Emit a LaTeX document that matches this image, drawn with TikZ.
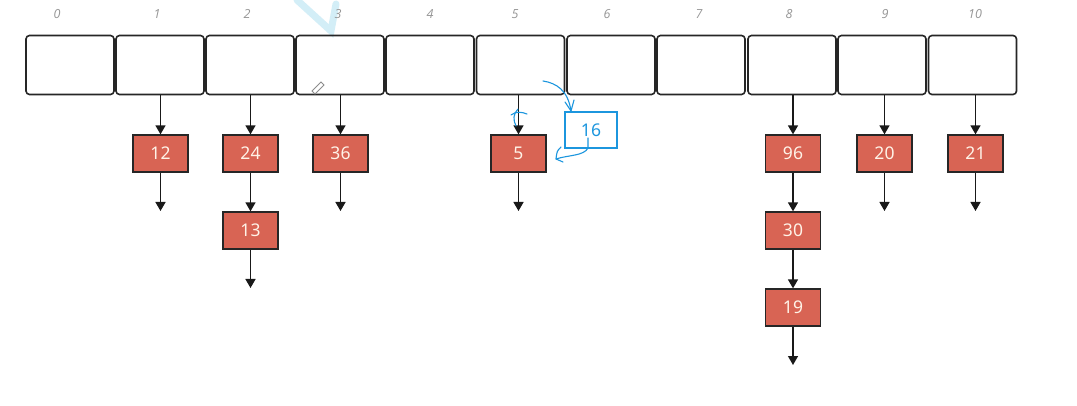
\documentclass[tikz,border=0pt]{standalone}
\usepackage{fontspec}
\setmainfont{Noto Sans}
\newfontfamily\idxfont{Open Sans}
\usetikzlibrary{arrows.meta}
\definecolor{nodered}{RGB}{216,100,84}
\definecolor{nodetext}{RGB}{255,243,232}
\definecolor{pen}{RGB}{28,150,222}
\definecolor{idxgray}{RGB}{150,150,150}
\definecolor{cursorblue}{RGB}{200,234,245}
\tikzset{
  cell/.style={draw=black!85, line width=1.6pt, rounded corners=3.5pt, minimum width=88pt, minimum height=59pt, inner sep=0pt},
  idx/.style={font=\idxfont\itshape\fontsize{12.5}{14}\selectfont, text=idxgray, inner sep=0pt},
  item/.style={draw=black!85, fill=nodered, line width=1.3pt, minimum width=55pt, minimum height=37pt, inner sep=0pt, text=nodetext, font=\fontsize{17.5}{20}\selectfont},
  link/.style={-{Triangle[length=9pt,width=10pt]}, line width=1.4pt, black!90},
  ink/.style={pen, line width=1.1pt, line cap=round, line join=round},
}
\begin{document}
\begin{tikzpicture}[x=1pt,y=-1pt]
\useasboundingbox[fill=white] (0,0) rectangle (1077,406);
% light cursor stroke artifact
\draw[cursorblue, line width=7pt, line cap=round, opacity=0.8] (297,0) -- (331,31) -- (336,4);
% cells
\foreach \i/\x in {0/70,1/160,2/250,3/340,4/430,5/520.5,6/611,7/701,8/792,9/882,10/972.5}{
  \node[cell] (c\i) at (\x,65) {};
}
\foreach \i/\x in {0/57,1/157,2/247,3/338,4/430,5/515,6/607,7/699,8/789,9/885,10/975}{
  \node[idx] (l\i) at (\x,14) {\i};
}
% pencil icon
\draw[black!45, line width=0.8pt] (312,91) -- (321,82) -- (324,85) -- (315,94) -- cycle;
% items
\node[item] (n12) at (160.5,153.5) {12};
\node[item] (n24) at (250.5,153.5) {24};
\node[item] (n13) at (250.5,230.5) {13};
\node[item] (n36) at (340.5,153.5) {36};
\node[item] (n5)  at (518.5,153.5) {5};
\node[item] (n96) at (793,153.5) {96};
\node[item] (n30) at (793,230.5) {30};
\node[item] (n19) at (793,307.5) {19};
\node[item] (n20) at (884.5,153.5) {20};
\node[item] (n21) at (975.5,153.5) {21};
% null ends
\coordinate (e12) at (160.5,211);
\coordinate (e13) at (250.5,288);
\coordinate (e36) at (340.5,211);
\coordinate (e5)  at (518.5,211);
\coordinate (e19) at (793,365);
\coordinate (e20) at (884.5,211);
\coordinate (e21) at (975.5,211);
% links
\draw[link] (c1.south -| n12) -- (n12.north);
\draw[link] (c2.south -| n24) -- (n24.north);
\draw[link] (c3.south -| n36) -- (n36.north);
\draw[link] (c5.south -| n5) -- (n5.north);
\draw[link] (c8.south -| n96) -- (n96.north);
\draw[link] (c9.south -| n20) -- (n20.north);
\draw[link] (c10.south -| n21) -- (n21.north);
\draw[link] (n24.south) -- (n13.north);
\draw[link] (n96.south) -- (n30.north);
\draw[link] (n30.south) -- (n19.north);
\draw[link] (n12.south) -- (e12);
\draw[link] (n13.south) -- (e13);
\draw[link] (n36.south) -- (e36);
\draw[link] (n5.south) -- (e5);
\draw[link] (n19.south) -- (e19);
\draw[link] (n20.south) -- (e20);
\draw[link] (n21.south) -- (e21);
% hand-drawn insertion of 16
\node[draw=pen, line width=1.5pt, minimum width=52pt, minimum height=36pt, inner sep=0pt, text=pen, font=\fontsize{17.5}{20}\selectfont] (n16) at (591,130) {16};
\draw[ink] (543,81) .. controls (556,83) and (568,90) .. (571,111);
\draw[ink] (565,102) -- (571,111) -- (574,100);
\draw[ink] (588,138) -- (588,148) .. controls (584,156) and (568,155) .. (556,159);
\draw[ink] (561,147) .. controls (557,151) .. (556,159) .. controls (559,161) .. (563,162);
\draw[ink] (511,115) .. controls (516,111) and (522,112) .. (527,114);
\draw[ink] (518,109) .. controls (513,114) and (513,120) .. (516,126);
\end{tikzpicture}
\end{document}
